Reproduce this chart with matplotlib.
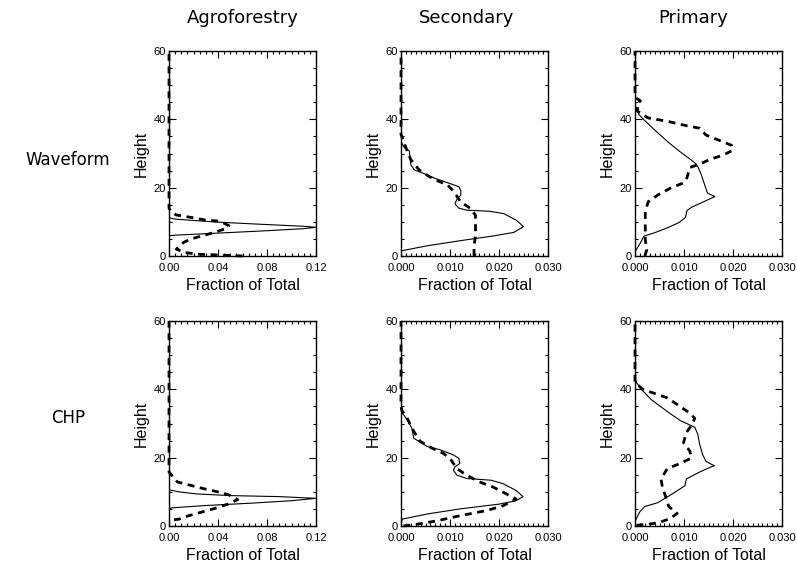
import numpy as np
import matplotlib.pyplot as plt
from matplotlib.ticker import MultipleLocator, FormatStrFormatter

# ---- data: fraction of total vs height (m) ----
# Waveform / Agroforestry
wa_solid_h = [0, 5.9, 6.1, 6.7, 7.4, 8.0, 8.4, 8.7, 9.2, 9.9, 10.4, 10.8, 11.2, 60]
wa_solid_x = [0, 0, 0.005, 0.04, 0.08, 0.11, 0.12, 0.11, 0.08, 0.04, 0.02, 0.005, 0, 0]
wa_dash_h = [0, 0.5, 1, 2, 3, 4, 5, 6, 7, 8, 8.8, 9.6, 10.2, 10.5, 11.3, 12, 12.8, 14, 60]
wa_dash_x = [0.06, 0.025, 0.013, 0.006, 0.009, 0.012, 0.018, 0.028, 0.038, 0.046, 0.049,
             0.045, 0.041, 0.03, 0.018, 0.006, 0.002, 0, 0]

# Waveform / Secondary
ws_solid_h = [0, 1.5, 3, 4.5, 5.9, 6.9, 8.6, 10.4, 12.4, 13.1, 13.4, 14, 15.3, 16.8, 17.8,
              19.1, 20.3, 21.8, 22.8, 24.3, 25.2, 26.7, 30.7, 31.7, 33.2, 34, 60]
ws_solid_x = [0, 0, 0.0054, 0.0122, 0.019, 0.023, 0.025, 0.0236, 0.021, 0.018, 0.0135,
              0.0118, 0.011, 0.0115, 0.0122, 0.0122, 0.0118, 0.0088, 0.0068, 0.0044, 0.0027,
              0.002, 0.0017, 0.0007, 0.0001, 0, 0]
ws_dash_h = [0, 3.0, 5.9, 8.9, 11.9, 13.9, 15.8, 18.8, 20.8, 21.8, 23.3, 25.2, 28.2, 31.7,
             35.6, 60]
ws_dash_x = [0.0149, 0.0149, 0.0152, 0.0152, 0.0152, 0.0142, 0.0122, 0.0108, 0.0095, 0.0078,
             0.0057, 0.0037, 0.002, 0.001, 0, 0]

# Waveform / Primary
wp_solid_h = [0, 1.3, 3.8, 5.8, 6.8, 8.3, 9.8, 11.3, 13.3, 14.3, 15.8, 17.4, 18.4, 20.9,
              23.9, 25.9, 26.9, 28.4, 30.4, 33.4, 36.9, 39.9, 41.4, 43.9, 60]
wp_solid_x = [0, 0, 0.0011, 0.0018, 0.004, 0.0067, 0.009, 0.0103, 0.0106, 0.0116, 0.0139,
              0.0163, 0.0148, 0.0142, 0.0135, 0.0129, 0.0125, 0.0112, 0.0093, 0.0067, 0.004,
              0.0018, 0.0008, 0.0001, 0]
wp_dash_h = [0, 1.8, 4.8, 8.8, 12.9, 15.9, 17.9, 19.9, 21.4, 22.9, 25.9, 26.9, 28.4, 29.4,
             30.9, 32.4, 33.9, 35.4, 37.4, 38.1, 39.4, 40.4, 42.4, 44.5, 45.4, 46.5, 60]
wp_dash_x = [0.002, 0.0024, 0.0021, 0.0021, 0.0021, 0.0027, 0.0047, 0.0073, 0.0099, 0.0106,
             0.0112, 0.0132, 0.0155, 0.0178, 0.0199, 0.0197, 0.0171, 0.0145, 0.0132, 0.0106,
             0.0067, 0.0027, 0.0005, 0.0005, 0.0011, 0, 0]

# CHP / Agroforestry
ca_solid_h = [0, 5.0, 5.3, 6.0, 6.7, 7.4, 8.1, 8.6, 8.9, 9.4, 10.0, 10.6, 60]
ca_solid_x = [0, 0, 0.002, 0.03, 0.068, 0.1, 0.12, 0.09, 0.05, 0.022, 0.008, 0, 0]
ca_dash_h = [1.8, 2.0, 3.0, 4.0, 5.1, 6.4, 7.7, 9.1, 9.9, 10.9, 11.9, 12.9, 15.8, 60]
ca_dash_x = [0.004, 0.008, 0.016, 0.026, 0.037, 0.048, 0.056, 0.049, 0.041, 0.0286, 0.0177,
             0.0068, 0, 0]

# CHP / Secondary
cs_solid_h = [0, 2, 3.5, 5, 6.4, 7.4, 8.6, 10.4, 12.4, 13.4, 13.9, 14.9, 16.3, 17.3, 18.3,
              19.8, 20.8, 22.3, 23.3, 24.8, 25.7, 28.7, 31.2, 33.2, 34, 60]
cs_solid_x = [0, 0.0002, 0.0053, 0.012, 0.020, 0.0235, 0.0249, 0.0235, 0.0208, 0.0184, 0.0134,
              0.0114, 0.0107, 0.011, 0.012, 0.0118, 0.0107, 0.008, 0.0053, 0.0036, 0.0026,
              0.0022, 0.0012, 0.0002, 0, 0]
cs_dash_h = [0, 0.5, 1.5, 3.0, 4.5, 5.9, 7.9, 9.4, 11.4, 12.9, 14.9, 16.8, 19.8, 21.3, 22.8,
             24.8, 27.7, 31.7, 33.7, 35, 60]
cs_dash_x = [0.0005, 0.0032, 0.0073, 0.012, 0.0174, 0.0208, 0.0235, 0.0215, 0.0188, 0.016,
             0.0134, 0.0114, 0.01, 0.0086, 0.0063, 0.0039, 0.0026, 0.0012, 0.0002, 0, 0]

# CHP / Primary
cp_solid_h = [0, 1.7, 4.2, 5.7, 6.8, 8.5, 10.3, 11.8, 13.8, 14.3, 15.8, 17.3, 17.6, 18.9,
              20.9, 23.9, 26.9, 28.9, 30.9, 33.5, 37, 40, 42, 43, 60]
cp_solid_x = [0, 0.0001, 0.001, 0.002, 0.0046, 0.0066, 0.0086, 0.0102, 0.0105, 0.0112, 0.0132,
              0.0155, 0.0162, 0.0145, 0.0138, 0.0132, 0.0128, 0.0122, 0.0092, 0.0066, 0.0033,
              0.0013, 0.0003, 0, 0]
cp_dash_h = [0.2, 0.7, 1.2, 2.2, 3.7, 5.7, 8.8, 11.3, 13.8, 16.8, 18.3, 19.9, 21.9, 24.4,
             27.4, 29.4, 31.5, 33, 35, 37.5, 39, 40, 42, 60]
cp_dash_x = [0.0003, 0.0036, 0.0053, 0.0072, 0.0086, 0.0069, 0.0062, 0.0056, 0.0053, 0.0066,
             0.0092, 0.0115, 0.0112, 0.0099, 0.0105, 0.0115, 0.0122, 0.0112, 0.0092, 0.0066,
             0.0036, 0.0016, 0, 0]

col_titles = ["Agroforestry", "Secondary", "Primary"]
row_titles = ["Waveform", "CHP"]
xmax = [0.12, 0.030, 0.030]

panels = [
    [(wa_solid_x, wa_solid_h, wa_dash_x, wa_dash_h),
     (ws_solid_x, ws_solid_h, ws_dash_x, ws_dash_h),
     (wp_solid_x, wp_solid_h, wp_dash_x, wp_dash_h)],
    [(ca_solid_x, ca_solid_h, ca_dash_x, ca_dash_h),
     (cs_solid_x, cs_solid_h, cs_dash_x, cs_dash_h),
     (cp_solid_x, cp_solid_h, cp_dash_x, cp_dash_h)],
]

W, H = 797, 565
fig = plt.figure(figsize=(W / 100, H / 100), dpi=100)

lefts = [169, 401, 635]     # pixel positions of the axes frames
tops = [51, 321]
aw, ah = 147, 205
lab_font = "Liberation Sans"

for r in range(2):
    for c in range(3):
        ax = fig.add_axes([lefts[c] / W, 1 - (tops[r] + ah) / H, aw / W, ah / H])
        sx, sh, dx, dh = panels[r][c]
        ax.plot(sx, sh, color="black", lw=0.8)
        # dashed drawn unclipped so the part lying on the left axis shows
        ax.plot(dx, dh, color="black", lw=2.0, linestyle=(0, (2.5, 2)),
                clip_on=False, zorder=3)
        ax.set_xlim(0, xmax[c])
        ax.set_ylim(0, 60)
        if c == 0:
            ax.xaxis.set_major_locator(MultipleLocator(0.04))
            ax.xaxis.set_minor_locator(MultipleLocator(0.005))
            ax.xaxis.set_major_formatter(FormatStrFormatter("%.2f"))
        else:
            ax.xaxis.set_major_locator(MultipleLocator(0.01))
            ax.xaxis.set_minor_locator(MultipleLocator(0.001))
            ax.xaxis.set_major_formatter(FormatStrFormatter("%.3f"))
        ax.yaxis.set_major_locator(MultipleLocator(20))
        ax.yaxis.set_minor_locator(MultipleLocator(5))
        ax.tick_params(which="both", direction="in", top=True, right=True,
                       labelsize=8, width=0.8)
        ax.tick_params(which="major", length=5)
        ax.tick_params(axis="x", which="major", pad=5)
        ax.tick_params(axis="y", which="major", pad=2)
        ax.tick_params(which="minor", length=2.5)
        for lbl in ax.get_xticklabels() + ax.get_yticklabels():
            lbl.set_family(lab_font)
        for sp in ax.spines.values():
            sp.set_linewidth(1.0)
        ax.set_xlabel("Fraction of Total", fontsize=11.5, family=lab_font, labelpad=4)
        ax.set_ylabel("Height", fontsize=11.5, family=lab_font, labelpad=4)

title_x = [243, 467, 693]
for c in range(3):
    fig.text(title_x[c] / W, 1 - 18 / H, col_titles[c], ha="center", va="center",
             fontsize=13, family="DejaVu Sans")
row_y = [160, 418]
for r in range(2):
    fig.text(68 / W, 1 - row_y[r] / H, row_titles[r], ha="center", va="center",
             fontsize=12, family="DejaVu Sans")

fig.savefig("out.png", dpi=100)
